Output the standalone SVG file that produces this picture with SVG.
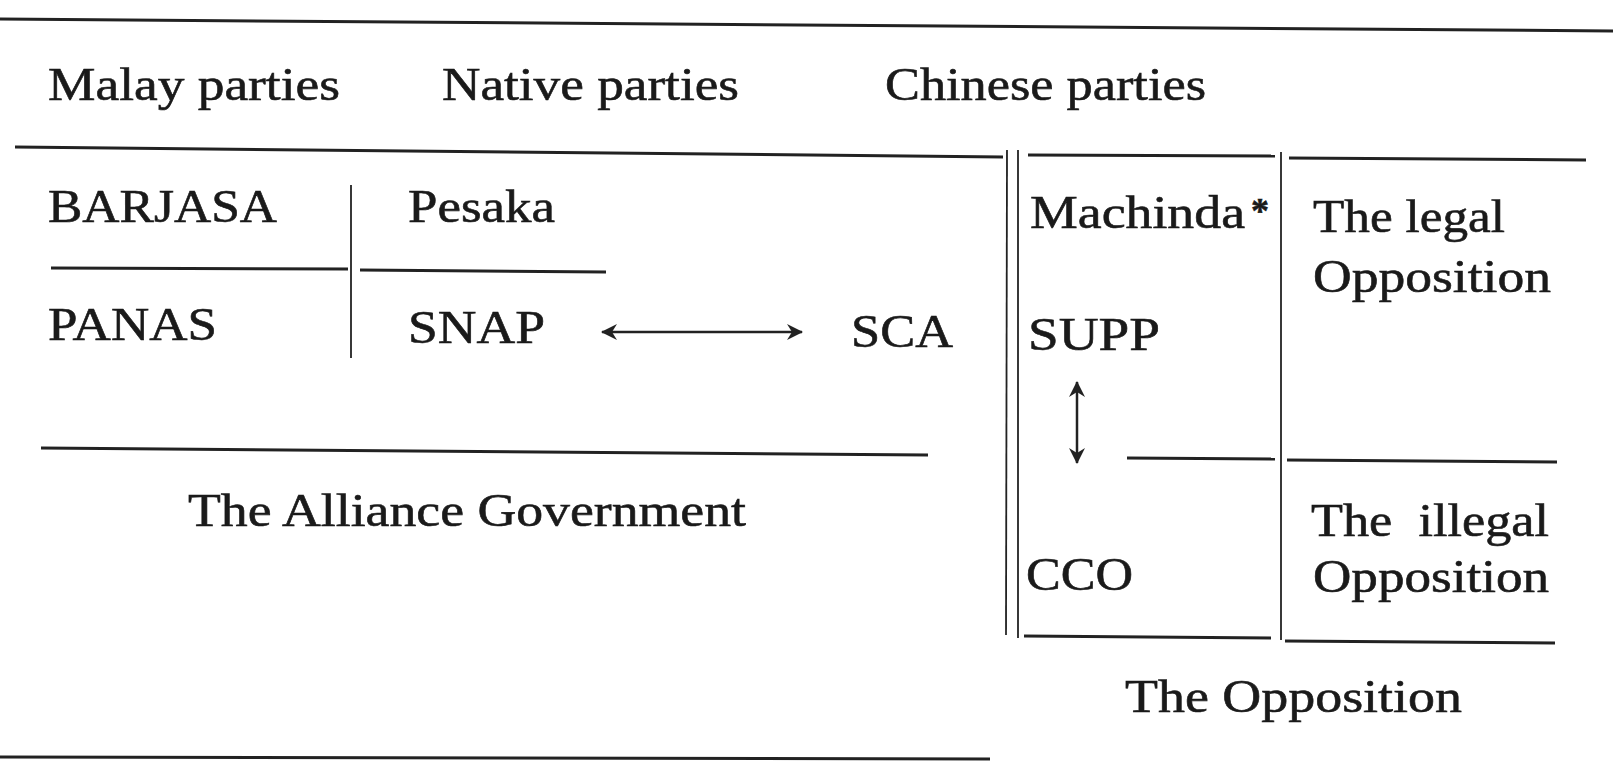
<svg xmlns="http://www.w3.org/2000/svg" width="1613" height="762" viewBox="0 0 1613 762">
<style>
text{font-family:"Liberation Serif","Times New Roman",serif;font-size:47px;fill:#1a1a1a;stroke:#1a1a1a;stroke-width:0.6}
.rule{stroke:#222;stroke-width:3;fill:none}
.thin{stroke:#222;stroke-width:1.8;fill:none}
.arrow{stroke:#222;stroke-width:2.5;fill:none;marker-start:url(#ah);marker-end:url(#ah)}
.ast{font-size:36px;font-weight:bold}
</style>
<defs>
<marker id="ah" viewBox="0 0 16 18" refX="15" refY="9" markerWidth="16" markerHeight="18" orient="auto-start-reverse" markerUnits="userSpaceOnUse">
<path d="M16,9 L0,1 L5,9 L0,17 Z" fill="#222"/>
</marker>
</defs>
<rect width="1613" height="762" fill="#fff"/>
<g id="rules">
<line class="rule" x1="0" y1="19" x2="1613" y2="31"/>
<line class="rule" x1="15" y1="147" x2="1003" y2="157"/>
<line class="rule" x1="1028" y1="155" x2="1275" y2="156"/>
<line class="rule" x1="1289" y1="158" x2="1586" y2="160"/>
<line class="rule" x1="51" y1="268" x2="348" y2="269"/>
<line class="rule" x1="360" y1="270" x2="606" y2="272"/>
<line class="rule" x1="41" y1="448" x2="928" y2="455"/>
<line class="rule" x1="1127" y1="458" x2="1275" y2="459"/>
<line class="rule" x1="1287" y1="460" x2="1557" y2="462"/>
<line class="rule" x1="1024" y1="636" x2="1271" y2="638"/>
<line class="rule" x1="1285" y1="641" x2="1555" y2="643"/>
<line class="rule" x1="0" y1="757" x2="990" y2="759"/>
<line class="thin" x1="351" y1="185" x2="351" y2="358"/>
<line class="thin" x1="1007" y1="150" x2="1006" y2="635"/>
<line class="thin" x1="1018" y1="150" x2="1018" y2="638"/>
<line class="thin" x1="1281" y1="152" x2="1281" y2="640"/>
</g>
<g id="header">
<text x="48" y="100" textLength="292" lengthAdjust="spacingAndGlyphs">Malay parties</text>
<text x="442" y="100" textLength="297" lengthAdjust="spacingAndGlyphs">Native parties</text>
<text x="885" y="100" textLength="321" lengthAdjust="spacingAndGlyphs">Chinese parties</text>
</g>
<g id="n-barjasa"><text x="48" y="222" textLength="229" lengthAdjust="spacingAndGlyphs">BARJASA</text></g>
<g id="n-pesaka"><text x="408" y="222" textLength="147" lengthAdjust="spacingAndGlyphs">Pesaka</text></g>
<g id="n-panas"><text x="48" y="340" textLength="169" lengthAdjust="spacingAndGlyphs">PANAS</text></g>
<g id="n-snap"><text x="408" y="343" textLength="137" lengthAdjust="spacingAndGlyphs">SNAP</text></g>
<g id="n-sca"><text x="851" y="347" textLength="102" lengthAdjust="spacingAndGlyphs">SCA</text></g>
<g id="n-alliance"><text x="188" y="526" textLength="558" lengthAdjust="spacingAndGlyphs">The Alliance Government</text></g>
<g id="n-machinda"><text x="1030" y="228" textLength="215" lengthAdjust="spacingAndGlyphs">Machinda</text><text class="ast" x="1251" y="223">*</text></g>
<g id="n-legal"><text x="1313" y="232" textLength="192" lengthAdjust="spacingAndGlyphs">The legal</text><text x="1313" y="292" textLength="238" lengthAdjust="spacingAndGlyphs">Opposition</text></g>
<g id="n-supp"><text x="1028" y="350" textLength="132" lengthAdjust="spacingAndGlyphs">SUPP</text></g>
<g id="n-illegal"><text x="1311" y="536" textLength="238" lengthAdjust="spacingAndGlyphs" xml:space="preserve">The  illegal</text><text x="1313" y="592" textLength="236" lengthAdjust="spacingAndGlyphs">Opposition</text></g>
<g id="n-cco"><text x="1026" y="590" textLength="107" lengthAdjust="spacingAndGlyphs">CCO</text></g>
<g id="n-opposition"><text x="1125" y="712" textLength="337" lengthAdjust="spacingAndGlyphs">The Opposition</text></g>
<g id="connectors">
<line class="arrow" x1="602" y1="332" x2="802" y2="332"/>
<line class="arrow" x1="1077" y1="382" x2="1077" y2="463"/>
</g>
</svg>
